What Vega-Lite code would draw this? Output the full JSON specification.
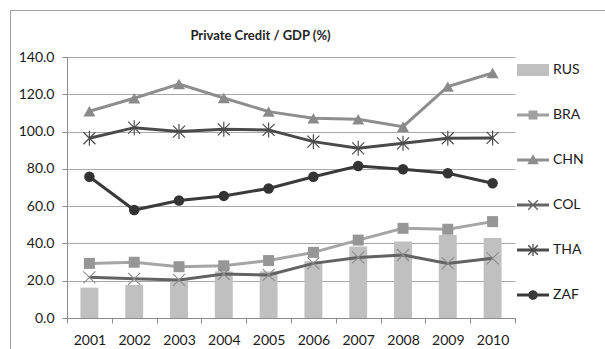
{
  "$schema": "https://vega.github.io/schema/vega-lite/v6.json",
  "width": 595,
  "height": 339,
  "autosize": {"type": "none"},
  "padding": {"left": 10, "top": 10, "right": 0, "bottom": 0},
  "background": "white",
  "title": {
    "text": "Private Credit / GDP (%)",
    "font": "Lato",
    "fontSize": 13,
    "fontWeight": "bold",
    "color": "#222222",
    "anchor": "middle",
    "frame": "group",
    "baseline": "middle",
    "dx": -47,
    "offset": -39
  },
  "config": {
    "view": {"stroke": "#a0a0a0", "strokeWidth": 1, "strokeDash": [595, 934, 339]}
  },
  "data": {
    "values": [
      {"year": "2001", "series": "RUS", "value": 16.3},
      {"year": "2002", "series": "RUS", "value": 17.7},
      {"year": "2003", "series": "RUS", "value": 20.9},
      {"year": "2004", "series": "RUS", "value": 25.0},
      {"year": "2005", "series": "RUS", "value": 25.0},
      {"year": "2006", "series": "RUS", "value": 30.5},
      {"year": "2007", "series": "RUS", "value": 38.3},
      {"year": "2008", "series": "RUS", "value": 41.0},
      {"year": "2009", "series": "RUS", "value": 44.5},
      {"year": "2010", "series": "RUS", "value": 42.9},
      {"year": "2001", "series": "BRA", "value": 29.3},
      {"year": "2002", "series": "BRA", "value": 29.9},
      {"year": "2003", "series": "BRA", "value": 27.5},
      {"year": "2004", "series": "BRA", "value": 28.0},
      {"year": "2005", "series": "BRA", "value": 30.8},
      {"year": "2006", "series": "BRA", "value": 35.2},
      {"year": "2007", "series": "BRA", "value": 41.8},
      {"year": "2008", "series": "BRA", "value": 48.1},
      {"year": "2009", "series": "BRA", "value": 47.6},
      {"year": "2010", "series": "BRA", "value": 51.7},
      {"year": "2001", "series": "CHN", "value": 110.9},
      {"year": "2002", "series": "CHN", "value": 117.9},
      {"year": "2003", "series": "CHN", "value": 125.5},
      {"year": "2004", "series": "CHN", "value": 118.0},
      {"year": "2005", "series": "CHN", "value": 110.7},
      {"year": "2006", "series": "CHN", "value": 107.1},
      {"year": "2007", "series": "CHN", "value": 106.6},
      {"year": "2008", "series": "CHN", "value": 102.6},
      {"year": "2009", "series": "CHN", "value": 124.1},
      {"year": "2010", "series": "CHN", "value": 131.4},
      {"year": "2001", "series": "COL", "value": 21.8},
      {"year": "2002", "series": "COL", "value": 21.0},
      {"year": "2003", "series": "COL", "value": 20.4},
      {"year": "2004", "series": "COL", "value": 23.6},
      {"year": "2005", "series": "COL", "value": 23.1},
      {"year": "2006", "series": "COL", "value": 29.3},
      {"year": "2007", "series": "COL", "value": 32.5},
      {"year": "2008", "series": "COL", "value": 33.8},
      {"year": "2009", "series": "COL", "value": 29.3},
      {"year": "2010", "series": "COL", "value": 32.0},
      {"year": "2001", "series": "THA", "value": 96.4},
      {"year": "2002", "series": "THA", "value": 102.1},
      {"year": "2003", "series": "THA", "value": 100.0},
      {"year": "2004", "series": "THA", "value": 101.2},
      {"year": "2005", "series": "THA", "value": 100.9},
      {"year": "2006", "series": "THA", "value": 94.6},
      {"year": "2007", "series": "THA", "value": 91.0},
      {"year": "2008", "series": "THA", "value": 93.7},
      {"year": "2009", "series": "THA", "value": 96.4},
      {"year": "2010", "series": "THA", "value": 96.6},
      {"year": "2001", "series": "ZAF", "value": 75.8},
      {"year": "2002", "series": "ZAF", "value": 57.9},
      {"year": "2003", "series": "ZAF", "value": 63.0},
      {"year": "2004", "series": "ZAF", "value": 65.5},
      {"year": "2005", "series": "ZAF", "value": 69.5},
      {"year": "2006", "series": "ZAF", "value": 75.8},
      {"year": "2007", "series": "ZAF", "value": 81.5},
      {"year": "2008", "series": "ZAF", "value": 79.8},
      {"year": "2009", "series": "ZAF", "value": 77.6},
      {"year": "2010", "series": "ZAF", "value": 72.3}
    ]
  },
  "encoding": {
    "x": {
      "field": "year",
      "type": "ordinal",
      "scale": {"range": [57, 505], "paddingInner": 0, "paddingOuter": 0},
      "axis": {
        "title": null,
        "offset": -31,
        "zindex": 1,
        "grid": false,
        "tickBand": "extent",
        "tickSize": 5,
        "domainColor": "#8c8c8c",
        "tickColor": "#8c8c8c",
        "labelAngle": 0,
        "labelFont": "Lato",
        "labelFontSize": 14,
        "labelColor": "#1a1a1a",
        "labelPadding": 10
      }
    },
    "y": {
      "field": "value",
      "type": "quantitative",
      "scale": {"domain": [0, 140], "range": [308, 47], "nice": false},
      "axis": {
        "title": null,
        "offset": -57,
        "values": [0, 20, 40, 60, 80, 100, 120, 140],
        "format": ".1f",
        "grid": true,
        "gridColor": "#a8a8a8",
        "gridWidth": 1,
        "tickSize": 5,
        "domainColor": "#8c8c8c",
        "tickColor": "#8c8c8c",
        "labelFont": "Lato",
        "labelFontSize": 14,
        "labelColor": "#1a1a1a",
        "labelPadding": 8
      }
    }
  },
  "layer": [
    {
      "transform": [{"filter": "datum.series === 'RUS'"}],
      "mark": {"type": "bar", "color": "#c0c0c0", "width": {"band": 0.4}}
    },
    {
      "transform": [{"filter": "datum.series !== 'RUS'"}],
      "mark": {"type": "line", "strokeWidth": 3},
      "encoding": {
        "stroke": {
          "field": "series",
          "type": "nominal",
          "scale": {
            "domain": ["BRA", "CHN", "COL", "THA", "ZAF"],
            "range": ["#a5a5a5", "#8e8e8e", "#636363", "#4a4a4a", "#3a3a3a"]
          },
          "legend": null
        }
      }
    },
    {
      "transform": [{"filter": "datum.series === 'BRA'"}],
      "mark": {"type": "point", "shape": "square", "filled": true, "size": 121, "color": "#969696", "opacity": 1}
    },
    {
      "transform": [{"filter": "datum.series === 'CHN'"}],
      "mark": {"type": "point", "shape": "triangle-up", "filled": true, "size": 144, "color": "#8a8a8a", "opacity": 1}
    },
    {
      "transform": [{"filter": "datum.series === 'COL'"}],
      "mark": {"type": "point", "shape": "M-1,-1L1,1M-1,1L1,-1", "filled": false, "size": 144, "strokeWidth": 1.1, "color": "#8c8c8c", "opacity": 1}
    },
    {
      "transform": [{"filter": "datum.series === 'THA'"}],
      "mark": {"type": "point", "shape": "M-1,-1L1,1M-1,1L1,-1M0,-1.25L0,1.25", "filled": false, "size": 144, "strokeWidth": 1.2, "color": "#4d4d4d", "opacity": 1}
    },
    {
      "transform": [{"filter": "datum.series === 'ZAF'"}],
      "mark": {"type": "point", "shape": "circle", "filled": true, "size": 110, "color": "#333333", "opacity": 1}
    },
    {
      "mark": {"type": "point", "filled": true, "opacity": 0},
      "encoding": {
        "color": {
          "field": "series",
          "type": "nominal",
          "scale": {
            "domain": ["RUS", "BRA", "CHN", "COL", "THA", "ZAF"],
            "range": ["#c0c0c0", "#a0a0a0", "#8e8e8e", "#666666", "#4a4a4a", "#3a3a3a"]
          },
          "legend": {
            "orient": "none",
            "legendX": 507,
            "legendY": 44,
            "title": null,
            "padding": 0,
            "symbolSize": 1024,
            "symbolStrokeWidth": 0,
            "symbolOpacity": 1,
            "labelFont": "Lato",
            "labelFontSize": 14,
            "labelColor": "#1a1a1a",
            "labelOffset": 4,
            "rowPadding": 22,
            "encode": {"symbols": {"update": {"opacity": {"value": 1}, "fillOpacity": {"value": 1}}}}
          }
        },
        "shape": {
          "field": "series",
          "type": "nominal",
          "scale": {
            "domain": ["RUS", "BRA", "CHN", "COL", "THA", "ZAF"],
            "range": [
              "M-1,-0.375H1V0.375H-1Z",
              "M-1,-0.09H1V0.09H-1Z M-0.28,-0.28H0.28V0.28H-0.28Z",
              "M-1,-0.09H1V0.09H-1Z M0,-0.36L0.36,0.26H-0.36Z",
              "M-1,-0.09H1V0.09H-1Z M-0.27,-0.33L0.33,0.27L0.27,0.33L-0.33,-0.27Z M0.27,-0.33L0.33,-0.27L-0.27,0.33L-0.33,0.27Z",
              "M-1,-0.09H1V0.09H-1Z M-0.27,-0.33L0.33,0.27L0.27,0.33L-0.33,-0.27Z M0.27,-0.33L0.33,-0.27L-0.27,0.33L-0.33,0.27Z M-0.04,-0.38H0.04V0.38H-0.04Z",
              "M-1,-0.09H1V0.09H-1Z M0.3,0A0.3,0.3 0 1,1 -0.3,0A0.3,0.3 0 1,1 0.3,0Z"
            ]
          },
          "legend": {
            "orient": "none",
            "legendX": 507,
            "legendY": 44,
            "title": null,
            "padding": 0,
            "symbolSize": 1024,
            "symbolStrokeWidth": 0,
            "symbolOpacity": 1,
            "labelFont": "Lato",
            "labelFontSize": 14,
            "labelColor": "#1a1a1a",
            "labelOffset": 4,
            "rowPadding": 22,
            "encode": {"symbols": {"update": {"opacity": {"value": 1}, "fillOpacity": {"value": 1}}}}
          }
        }
      }
    }
  ]
}
